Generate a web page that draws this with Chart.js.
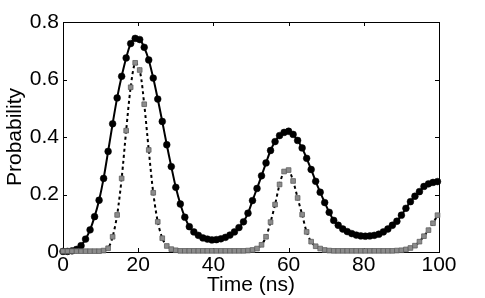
<!DOCTYPE html>
<html>
<head>
<meta charset="utf-8">
<script src="https://cdn.jsdelivr.net/npm/chart.js@4.4.1/dist/chart.umd.min.js"></script>
<style>
  html, body { margin: 0; padding: 0; background: #fff; }
  canvas { display: block; }
</style>
</head>
<body>
<canvas id="myChart" width="485" height="298"></canvas>
<script>
'use strict';

// time samples (ns)
var times = [
  0, 1.2, 2.4, 3.6, 4.8, 6, 7.2, 8.4, 9.6, 10.8,
  12, 13.2, 14.4, 15.6, 16.8, 18, 19.2, 20.4, 21.6, 22.8,
  24, 25.2, 26.4, 27.6, 28.8, 30, 31.2, 32.4, 33.6, 34.8,
  36, 37.2, 38.4, 39.6, 40.8, 42, 43.2, 44.4, 45.6, 46.8,
  48, 49.2, 50.4, 51.6, 52.8, 54, 55.2, 56.4, 57.6, 58.8,
  60, 61.2, 62.4, 63.6, 64.8, 66, 67.2, 68.4, 69.6, 70.8,
  72, 73.2, 74.4, 75.6, 76.8, 78, 79.2, 80.4, 81.6, 82.8,
  84, 85.2, 86.4, 87.6, 88.8, 90, 91.2, 92.4, 93.6, 94.8,
  96, 97.2, 98.4, 99.6
];

// solid line, black circles
var probCircles = [
  0.002, 0.002, 0.004, 0.009, 0.022, 0.045, 0.077, 0.123, 0.18, 0.256,
  0.35, 0.446, 0.536, 0.611, 0.675, 0.725, 0.743, 0.739, 0.712, 0.668,
  0.605, 0.532, 0.454, 0.373, 0.297, 0.225, 0.167, 0.121, 0.088, 0.07,
  0.058, 0.049, 0.045, 0.042, 0.043, 0.046, 0.051, 0.059, 0.07, 0.085,
  0.105, 0.135, 0.179, 0.221, 0.265, 0.31, 0.353, 0.384, 0.405, 0.416,
  0.42, 0.409, 0.388, 0.362, 0.326, 0.287, 0.246, 0.208, 0.172, 0.138,
  0.11, 0.093, 0.08, 0.071, 0.064, 0.059, 0.056, 0.055, 0.056, 0.058,
  0.062, 0.07, 0.08, 0.093, 0.107, 0.128, 0.152, 0.175, 0.194, 0.21,
  0.228, 0.237, 0.242, 0.245
];

// dashed line, grey squares
var probSquares = [
  0.003, 0.003, 0.003, 0.003, 0.003, 0.003, 0.003, 0.003, 0.003, 0.005,
  0.013, 0.053, 0.129, 0.256, 0.422, 0.573, 0.658, 0.633, 0.514, 0.355,
  0.206, 0.105, 0.048, 0.021, 0.01, 0.006, 0.004, 0.004, 0.004, 0.004,
  0.004, 0.004, 0.004, 0.004, 0.004, 0.004, 0.004, 0.004, 0.004, 0.004,
  0.004, 0.005, 0.007, 0.012, 0.025, 0.053, 0.104, 0.165, 0.235, 0.28,
  0.285, 0.247, 0.188, 0.13, 0.07, 0.036, 0.02, 0.012, 0.007, 0.005,
  0.004, 0.004, 0.004, 0.004, 0.004, 0.004, 0.004, 0.004, 0.004, 0.004,
  0.004, 0.004, 0.004, 0.004, 0.005, 0.006, 0.009, 0.014, 0.022, 0.036,
  0.055, 0.076, 0.1, 0.128
];

var xTicks = [0, 20, 40, 60, 80, 100];
var yTicks = [0, 0.2, 0.4, 0.6, 0.8];

var font = { family: "'Liberation Sans', Arial, sans-serif", size: 21 };

function toPoints(vals) {
  return times.map(function (t, i) { return { x: t, y: vals[i] }; });
}

// box round the plot with inward ticks, like the original figure
var framePlugin = {
  id: 'frame',
  beforeDatasetsDraw: function (chart) {
    var ctx = chart.ctx;
    var a = chart.chartArea;
    var xs = chart.scales.x, ys = chart.scales.y;
    var len = 4;
    ctx.save();
    ctx.strokeStyle = '#000';
    ctx.lineWidth = 1;
    ctx.strokeRect(Math.round(a.left) + 0.5, Math.round(a.top) + 0.5,
      Math.round(a.right - a.left), Math.round(a.bottom - a.top));
    ctx.beginPath();
    xTicks.slice(1, -1).forEach(function (v) {
      var px = Math.round(xs.getPixelForValue(v)) + 0.5;
      ctx.moveTo(px, a.bottom); ctx.lineTo(px, a.bottom - len);
      ctx.moveTo(px, a.top); ctx.lineTo(px, a.top + len);
    });
    yTicks.slice(1, -1).forEach(function (v) {
      var py = Math.round(ys.getPixelForValue(v)) + 0.5;
      ctx.moveTo(a.left, py); ctx.lineTo(a.left + len, py);
      ctx.moveTo(a.right, py); ctx.lineTo(a.right - len, py);
    });
    ctx.stroke();
    ctx.restore();
  }
};

var ctx = document.getElementById('myChart');

new Chart(ctx, {
  type: 'line',
  data: {
    datasets: [
      {
        label: 'squares',
        data: toPoints(probSquares),
        borderColor: '#000',
        borderWidth: 2,
        borderDash: [3, 3],
        pointStyle: 'rect',
        pointRadius: 3.3,
        pointBackgroundColor: '#8c8c8c',
        pointBorderColor: '#5e5e5e',
        pointBorderWidth: 0.8,
        tension: 0.3,
        clip: false,
        order: 1
      },
      {
        label: 'circles',
        data: toPoints(probCircles),
        borderColor: '#000',
        borderWidth: 2,
        pointStyle: 'circle',
        pointRadius: 3.4,
        pointBackgroundColor: '#000',
        pointBorderColor: '#000',
        pointBorderWidth: 0.5,
        tension: 0.3,
        clip: false,
        order: 2
      }
    ]
  },
  options: {
    responsive: false,
    animation: false,
    devicePixelRatio: 1,
    layout: { padding: { left: 0, top: 22, right: 46, bottom: 0 } },
    plugins: { legend: { display: false }, tooltip: { enabled: false } },
    scales: {
      x: {
        type: 'linear',
        min: 0,
        max: 100,
        ticks: { stepSize: 20, padding: 1, color: '#000', font: font, maxRotation: 0 },
        grid: { display: false, drawTicks: false },
        border: { display: false },
        title: { display: true, text: 'Time (ns)', color: '#000', font: font, padding: { top: 0, bottom: 0 } },
        afterFit: function (s) { s.height = 46; }
      },
      y: {
        min: 0,
        max: 0.8,
        ticks: { stepSize: 0.2, padding: 4, color: '#000', font: font },
        grid: { display: false, drawTicks: false },
        border: { display: false },
        title: { display: true, text: 'Probability', color: '#000', font: font, padding: { top: 3, bottom: 0 } },
        afterFit: function (s) { s.width = 63; }
      }
    }
  },
  plugins: [framePlugin]
});
</script>
</body>
</html>
